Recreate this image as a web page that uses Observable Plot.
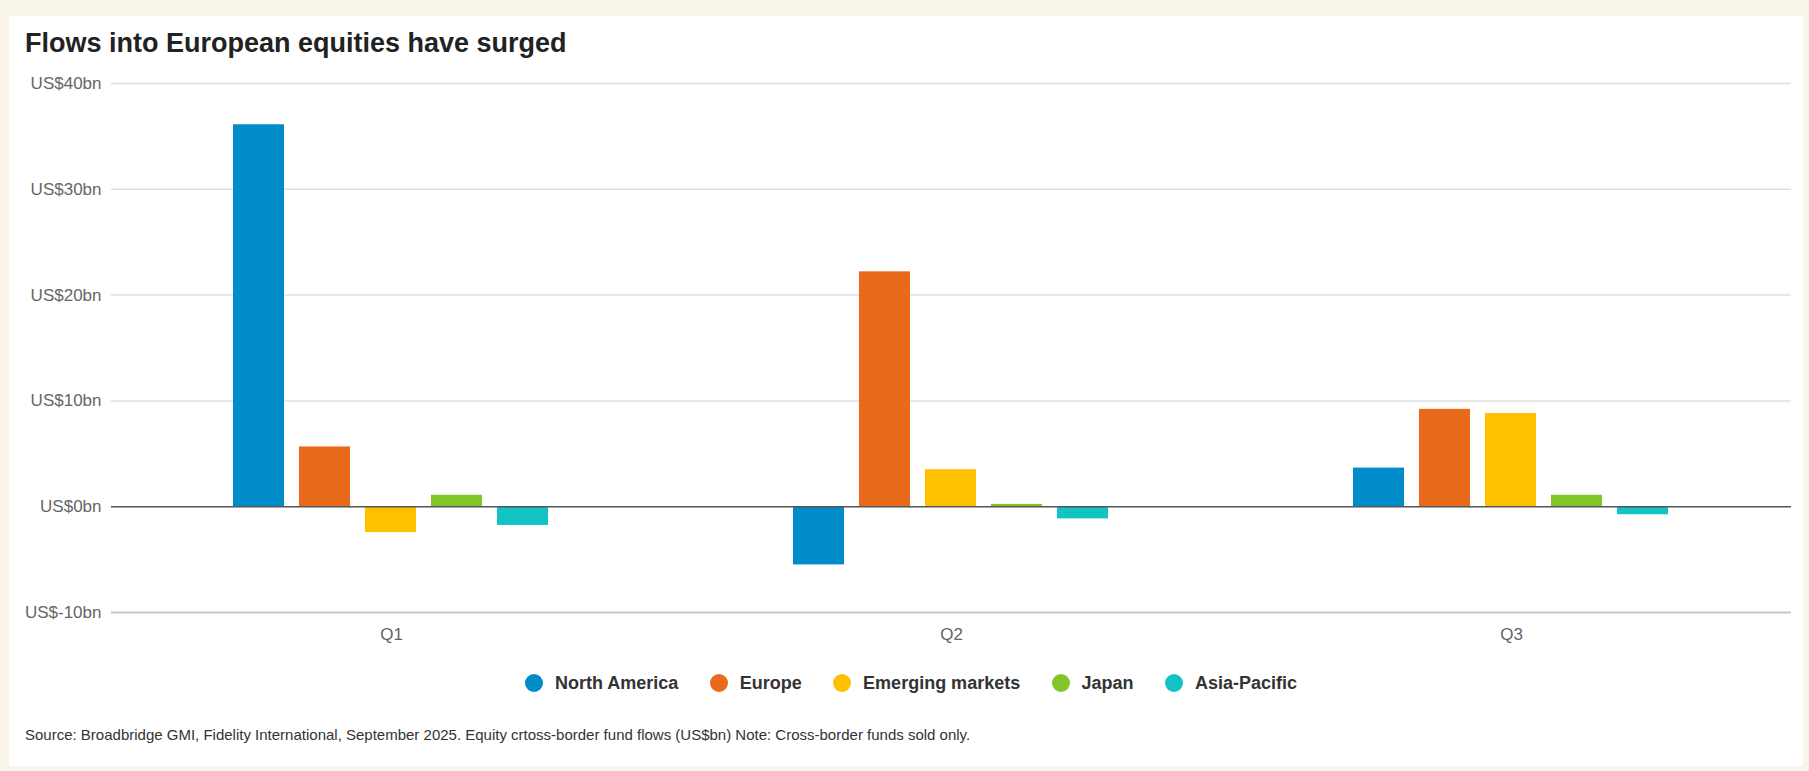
<!DOCTYPE html>
<html><head><meta charset="utf-8">
<script src="https://cdn.jsdelivr.net/npm/d3@7"></script>
<script src="https://cdn.jsdelivr.net/npm/@observablehq/plot@0.6"></script>
<style>
html,body{margin:0;padding:0;background:#F9F5EA;width:1809px;height:771px;overflow:hidden;font-family:"Liberation Sans",Arial,sans-serif;}
#card{position:absolute;left:9px;top:16px;width:1794px;height:750px;background:#fff;}
#title{position:absolute;left:16px;top:11px;line-height:32px;font-size:27px;font-weight:bold;color:#222;}
#chart{position:absolute;left:0;top:50px;}
#legend{position:absolute;left:0;width:100%;box-sizing:border-box;padding-left:10px;top:657px;height:20px;display:flex;justify-content:center;align-items:center;}
.item{display:flex;align-items:center;margin:0 15.7px;font-size:18px;font-weight:bold;color:#333;line-height:20px;}
.dot{width:18px;height:18px;border-radius:50%;margin-right:12px;}
#note{position:absolute;left:16px;top:710px;line-height:18px;font-size:15px;color:#333;}
</style></head>
<body>
<div id="card">
  <div id="title">Flows into European equities have surged</div>
  <div id="chart"></div>
  <div id="legend"></div>
  <div id="note">Source: Broadbridge GMI, Fidelity International, September 2025. Equity crtoss-border fund flows (US$bn) Note: Cross-border funds sold only.</div>
</div>
<script>
const quarters = ["Q1", "Q2", "Q3"];
const regions = ["North America", "Europe", "Emerging markets", "Japan", "Asia-Pacific"];
const colors = ["#008BC9", "#EA6A1B", "#FFC000", "#82C524", "#13C3C4"];
const northAmerica = [36.1, -5.5, 3.65];
const europe = [5.65, 22.2, 9.2];
const emergingMarkets = [-2.45, 3.5, 8.8];
const japan = [1.08, 0.22, 1.08];
const asiaPacific = [-1.77, -1.15, -0.76];
const yTicks = [-10, 0, 10, 20, 30, 40];
const gridTicks = [10, 20, 30, 40];

const series = [northAmerica, europe, emergingMarkets, japan, asiaPacific];
const data = [];
quarters.forEach((q, i) => regions.forEach((r, j) => data.push({quarter: q, region: r, value: series[j][i]})));

const chart = Plot.plot({
  width: 1794, height: 586,
  marginLeft: 101, marginRight: 11, marginTop: 17, marginBottom: 40,
  style: {fontFamily: "'Liberation Sans', Arial, sans-serif", fontSize: "17px", color: "#666", background: "transparent"},
  fx: {domain: quarters, padding: 0, label: null, axis: "bottom", tickSize: 0, tickPadding: 15},
  x: {domain: regions, axis: null, paddingInner: 0.224, paddingOuter: 1.8},
  y: {domain: [-10, 40], ticks: yTicks, tickFormat: d => `US$${d}bn`, tickSize: 0, tickPadding: 10, label: null},
  color: {domain: regions, range: colors},
  marks: [
    Plot.ruleY(gridTicks, {stroke: "#dfe0e6", strokeWidth: 1.5}),
    Plot.ruleY([-10], {stroke: "#c3c7cd", strokeWidth: 2}),
    Plot.barY(data, {fx: "quarter", x: "region", y: "value", fill: "region"}),
    Plot.ruleY([0], {stroke: "#555", strokeWidth: 1.5})
  ]
});
document.getElementById("chart").appendChild(chart);

const legend = document.getElementById("legend");
regions.forEach((r, i) => {
  const it = document.createElement("div");
  it.className = "item";
  const dot = document.createElement("span");
  dot.className = "dot";
  dot.style.background = colors[i];
  it.appendChild(dot);
  it.appendChild(document.createTextNode(r));
  legend.appendChild(it);
});
</script>
</body></html>
